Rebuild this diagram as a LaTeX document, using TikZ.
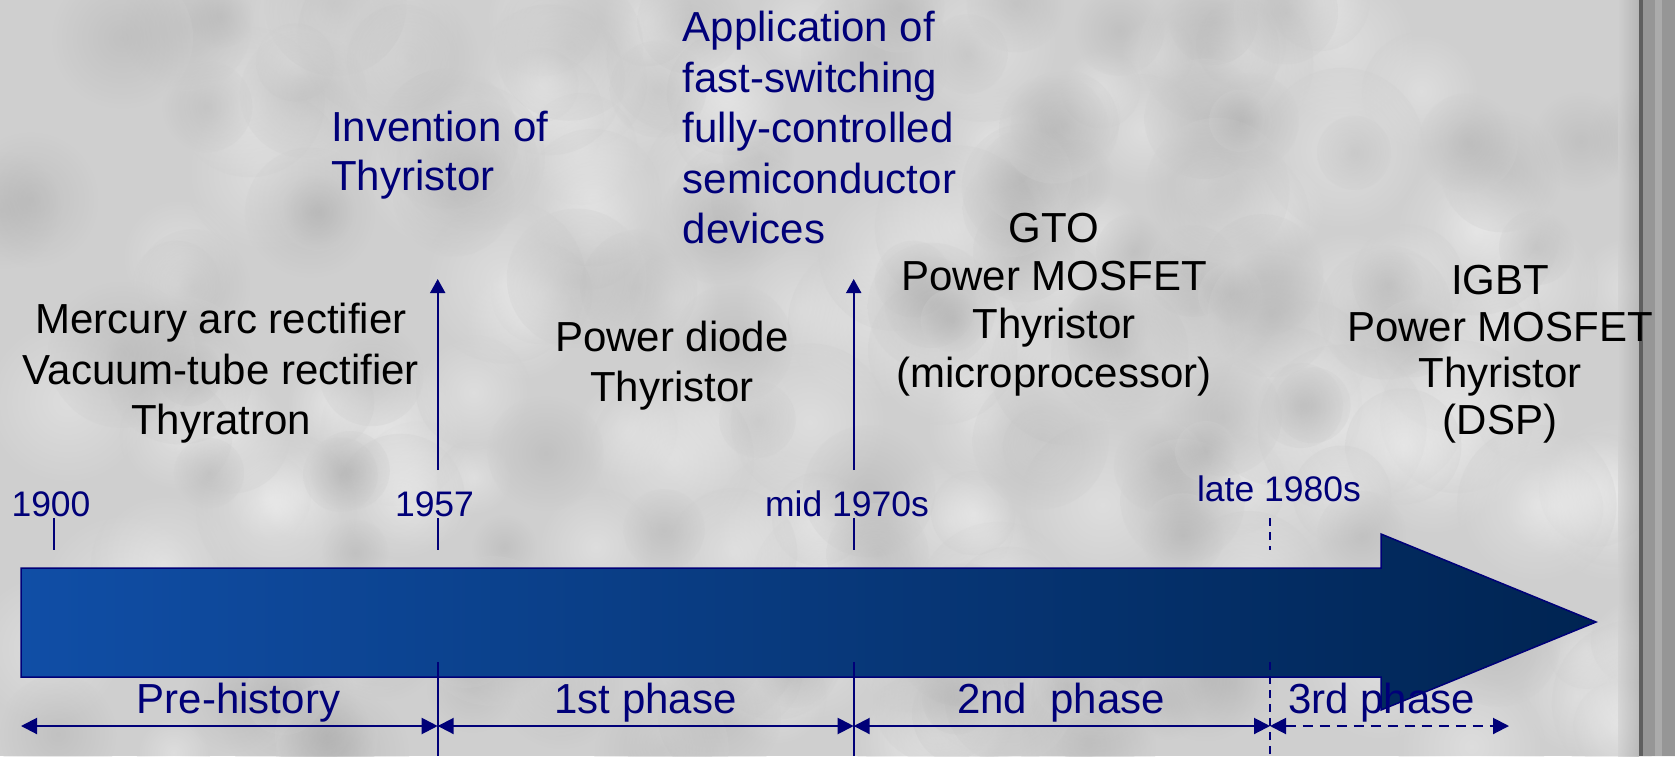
\documentclass[tikz,border=0pt]{standalone}
\usepackage{fontspec}
\setmainfont{Liberation Sans}
\usetikzlibrary{arrows.meta}
\definecolor{navytext}{RGB}{0,0,120}
\definecolor{bgray}{RGB}{207,207,207}
\definecolor{barL}{RGB}{16,78,166}
\definecolor{barR}{RGB}{0,36,82}
\definecolor{stripgray}{RGB}{150,150,150}
\definecolor{stripdark}{RGB}{95,95,95}
\begin{document}
\begin{tikzpicture}[x=1pt,y=-1pt,
  mainlbl/.style={font=\fontsize{42}{50}\selectfont, inner sep=0pt, align=center, anchor=north},
  bluelbl/.style={font=\fontsize{42}{50}\selectfont, inner sep=0pt, align=left, anchor=north west, text=navytext},
  yearlbl/.style={font=\fontsize{35.5}{42}\selectfont, text=navytext, inner sep=0pt, anchor=base},
  phaselbl/.style={font=\fontsize{42}{50}\selectfont, text=navytext, inner sep=0pt, anchor=base},
  tickline/.style={draw=navytext, line width=2pt},
  dashline/.style={draw=navytext, line width=2pt, dash pattern=on 8pt off 6pt},
  dimarrow/.style={draw=navytext, line width=2pt, {Triangle[length=16pt,width=16pt]}-{Triangle[length=16pt,width=16pt]}},
  uparrow/.style={draw=navytext, line width=2pt, -{Triangle[length=14pt,width=15pt]}}
]
% background
\useasboundingbox (0,0) rectangle (1675,756);
\fill[bgray] (0,0) rectangle (1675,756);
\pgfmathsetseed{4217}
\foreach \i in {1,...,150}{
  \pgfmathsetmacro\cx{rnd*1640}
  \pgfmathsetmacro\cy{rnd*756}
  \pgfmathsetmacro\rr{35+rnd*50}
  \shade[inner color=white, outer color=bgray, opacity=0.3] (\cx,\cy) circle[radius=\rr];
}
\foreach \i in {1,...,120}{
  \pgfmathsetmacro\cx{rnd*1640}
  \pgfmathsetmacro\cy{rnd*756}
  \pgfmathsetmacro\rr{30+rnd*45}
  \shade[inner color=black!22!bgray, outer color=bgray, opacity=0.3] (\cx,\cy) circle[radius=\rr];
}
\shade[left color=bgray, right color=stripgray!85!white, opacity=0.6] (1618,0) rectangle (1639,756);
\fill[stripgray] (1639,0) rectangle (1675,756);
\fill[stripdark] (1639,0) rectangle (1643,756);
\fill[stripgray!80!white] (1655,0) rectangle (1662,756);

% main arrow bar
\path[left color=barL, right color=barR, draw=navytext, line width=1.5pt]
  (21,568) -- (1381,568) -- (1381,534) -- (1596,622) -- (1381,710) -- (1381,677) -- (21,677) -- cycle;

% coordinates
\coordinate (t0top) at (53.7,518);  \coordinate (t0bot) at (53.7,550);
\coordinate (t1top) at (437.7,518); \coordinate (t1bot) at (437.7,550);
\coordinate (t2top) at (853.7,518); \coordinate (t2bot) at (853.7,550);
\coordinate (t3top) at (1270,518);  \coordinate (t3bot) at (1270,550);
\coordinate (v1top) at (437.7,662); \coordinate (v1bot) at (437.7,756);
\coordinate (v2top) at (853.7,662); \coordinate (v2bot) at (853.7,756);
\coordinate (v3top) at (1270,662);  \coordinate (v3bot) at (1270,756);
\coordinate (d0) at (21,726);
\coordinate (d1) at (437.7,726);
\coordinate (d2) at (853.7,726);
\coordinate (d3) at (1270,726);
\coordinate (d4) at (1509,726);
\coordinate (u1bot) at (437.7,470); \coordinate (u1top) at (437.7,279);
\coordinate (u2bot) at (853.7,470); \coordinate (u2top) at (853.7,279);

% ticks
\draw[tickline] (t0top) -- (t0bot);
\draw[tickline] (t1top) -- (t1bot);
\draw[tickline] (t2top) -- (t2bot);
\draw[dashline] (t3top) -- (t3bot);
\draw[tickline] (v1top) -- (v1bot);
\draw[tickline] (v2top) -- (v2bot);
\draw[dashline] (v3top) -- (v3bot);

% up arrows
\draw[uparrow] (u1bot) -- (u1top);
\draw[uparrow] (u2bot) -- (u2top);

% dimension arrows
\draw[dimarrow] (d0) -- (d1);
\draw[dimarrow] (d1) -- (d2);
\draw[dimarrow] (d2) -- (d3);
\draw[dimarrow, dash pattern=on 10pt off 7pt] (d3) -- (d4);

% year labels
\node[yearlbl] (y1900) at (51,516.7) {1900};
\node[yearlbl] (y1957) at (434.5,516.7) {1957};
\node[yearlbl] (y1970) at (847,516.7) {mid 1970s};
\node[yearlbl] (y1980) at (1279,501) {late 1980s};

% phase labels
\node[phaselbl] (ph0) at (238.5,713) {Pre-history};
\node[phaselbl] (ph1) at (645.5,713) {1st phase};
\node[phaselbl] (ph2) at (1061,713) {2nd\ \ phase};
\node[phaselbl] (ph3) at (1381.5,713) {3rd phase};

% device labels
\node[mainlbl, font=\fontsize{42}{50.5}\selectfont] (pre) at (221,303) {Mercury arc rectifier\\Vacuum-tube rectifier\\Thyratron};
\node[mainlbl] (first) at (672,321) {Power diode\\Thyristor};
\node[mainlbl, font=\fontsize{42}{48.2}\selectfont] (second) at (1054,213) {GTO\\Power MOSFET\\Thyristor\\(microprocessor)};
\node[mainlbl, font=\fontsize{42}{46.7}\selectfont] (third) at (1500,265) {IGBT\\Power MOSFET\\Thyristor\\(DSP)};

% event labels
\node[bluelbl, font=\fontsize{42}{49}\selectfont] (inv) at (331,111) {Invention of\\Thyristor};
\node[bluelbl, font=\fontsize{42}{50.5}\selectfont] (app) at (682.7,11) {Application of\\fast-switching\\fully-controlled\\semiconductor\\devices};
\end{tikzpicture}
\end{document}
